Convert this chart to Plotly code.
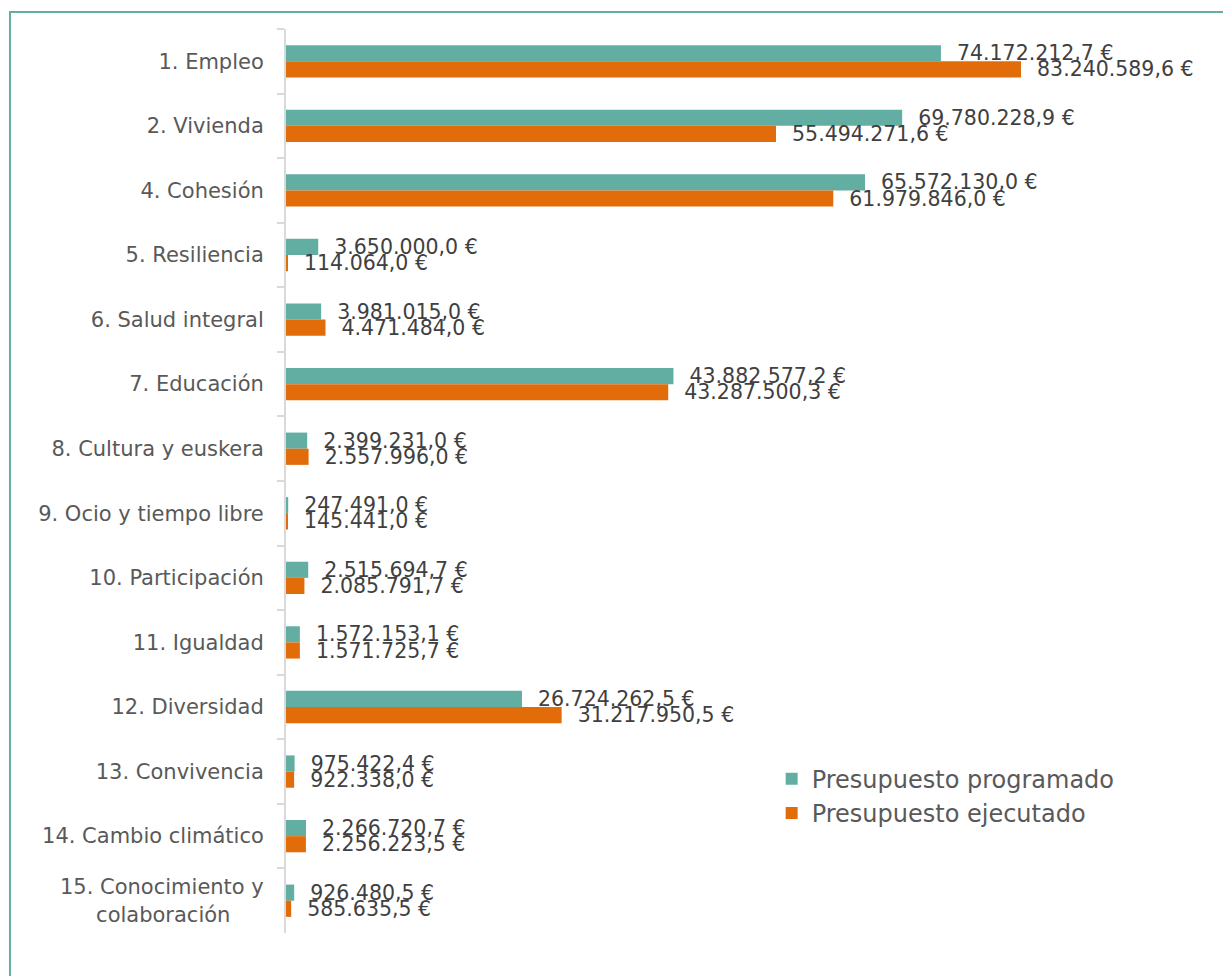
import plotly.graph_objects as go

categorias = [
    "1. Empleo",
    "2. Vivienda",
    "4. Cohesión",
    "5. Resiliencia",
    "6. Salud integral",
    "7. Educación",
    "8. Cultura y euskera",
    "9. Ocio y tiempo libre",
    "10. Participación",
    "11. Igualdad",
    "12. Diversidad",
    "13. Convivencia",
    "14. Cambio climático",
    "15. Conocimiento y<br>colaboración" + "\u00a0" * 5,
]
programado = [
    74172212.7, 69780228.9, 65572130.0, 3650000.0, 3981015.0, 43882577.2, 2399231.0,
    247491.0, 2515694.7, 1572153.1, 26724262.5, 975422.4, 2266720.7, 926480.5,
]
ejecutado = [
    83240589.6, 55494271.6, 61979846.0, 114064.0, 4471484.0, 43287500.3, 2557996.0,
    145441.0, 2085791.7, 1571725.7, 31217950.5, 922338.0, 2256223.5, 585635.5,
]

TEAL = "#63AEA3"
ORANGE = "#E36C0A"
PAD = "\u00a0\u00a0"


def euros(v: float) -> str:
    s = f"{v:,.1f}".replace(",", "X").replace(".", ",").replace("X", ".")
    return f"{PAD}{s} €"


fig = go.Figure()
for name, vals, color in [
    ("Presupuesto programado", programado, TEAL),
    ("Presupuesto ejecutado", ejecutado, ORANGE),
]:
    fig.add_trace(go.Bar(
        y=categorias,
        x=vals,
        name=name,
        orientation="h",
        marker={"color": color, "line": {"width": 0}},
        text=[euros(v) for v in vals],
        textposition="outside",
        textfont={"size": 20.5, "color": "#404040"},
        cliponaxis=False,
        constraintext="none",
    ))

fig.update_layout(
    width=1231,
    height=976,
    barmode="group",
    bargap=0.5,
    bargroupgap=0,
    paper_bgcolor="white",
    plot_bgcolor="white",
    margin={"l": 278, "r": 70, "t": 21, "b": 51, "autoexpand": False},
    font={"family": "DejaVu Sans, Verdana, sans-serif", "color": "#595959"},
    xaxis={"range": [0, 100000000], "visible": False, "fixedrange": True},
    yaxis={
        "autorange": "reversed",
        "showline": True,
        "linecolor": "#D9D9D9",
        "linewidth": 2,
        "ticks": "outside",
        "tickson": "boundaries",
        "ticklen": 7,
        "tickcolor": "#D9D9D9",
        "tickwidth": 2,
        "ticklabelstandoff": 16,
        "tickfont": {"size": 21, "color": "#595959"},
        "showgrid": False,
    },
    legend={
        "x": 0.55,
        "y": 0.195,
        "xanchor": "left",
        "yanchor": "top",
        "font": {"size": 24, "color": "#595959"},
        "bgcolor": "rgba(0,0,0,0)",
        "traceorder": "normal",
        "itemwidth": 30,
        "tracegroupgap": 0,
    },
    shapes=[{
        "type": "rect",
        "xref": "paper",
        "yref": "paper",
        "x0": -0.3126,
        "x1": 1.1,
        "y0": -0.08,
        "y1": 1.0188,
        "line": {"color": "#63AEA3", "width": 2},
        "fillcolor": "rgba(0,0,0,0)",
        "layer": "below",
    }],
    showlegend=True,
)

fig.write_html("out.html")
